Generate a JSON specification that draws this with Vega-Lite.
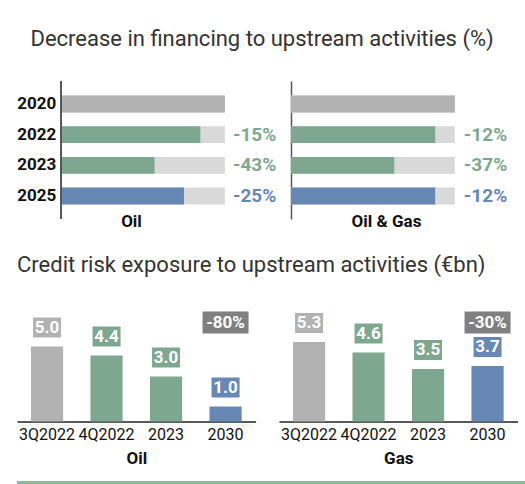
{
  "$schema": "https://vega.github.io/schema/vega-lite/v6.json",
  "background": "white",
  "padding": {"left": 16, "top": 28, "right": 0, "bottom": 0},
  "datasets": {
    "top": [
      {"panel": "Oil", "year": "2020", "value": 100, "change": null, "kind": "base"},
      {"panel": "Oil", "year": "2022", "value": 85, "change": "-15%", "kind": "actual"},
      {"panel": "Oil", "year": "2023", "value": 57, "change": "-43%", "kind": "actual"},
      {"panel": "Oil", "year": "2025", "value": 75, "change": "-25%", "kind": "target"},
      {"panel": "Oil & Gas", "year": "2020", "value": 100, "change": null, "kind": "base"},
      {"panel": "Oil & Gas", "year": "2022", "value": 88, "change": "-12%", "kind": "actual"},
      {"panel": "Oil & Gas", "year": "2023", "value": 63, "change": "-37%", "kind": "actual"},
      {"panel": "Oil & Gas", "year": "2025", "value": 88, "change": "-12%", "kind": "target"}
    ],
    "bottom": [
      {"panel": "Oil", "period": "3Q2022", "value": 5.0, "change": null, "kind": "base"},
      {"panel": "Oil", "period": "4Q2022", "value": 4.4, "change": null, "kind": "actual"},
      {"panel": "Oil", "period": "2023", "value": 3.0, "change": null, "kind": "actual"},
      {"panel": "Oil", "period": "2030", "value": 1.0, "change": "-80%", "kind": "target"},
      {"panel": "Gas", "period": "3Q2022", "value": 5.3, "change": null, "kind": "base"},
      {"panel": "Gas", "period": "4Q2022", "value": 4.6, "change": null, "kind": "actual"},
      {"panel": "Gas", "period": "2023", "value": 3.5, "change": null, "kind": "actual"},
      {"panel": "Gas", "period": "2030", "value": 3.7, "change": "-30%", "kind": "target"}
    ]
  },
  "config": {
    "font": "Roboto",
    "view": {"stroke": null},
    "axis": {"grid": false, "ticks": false, "labelColor": "#111", "titleColor": "#111"},
    "title": {"fontSize": 22, "fontWeight": "normal", "color": "#333", "anchor": "middle"}
  },
  "spacing": 25,
  "vconcat": [
    {
      "title": {"text": "Decrease in financing to upstream activities (%)", "offset": 29},
      "spacing": 14,
      "hconcat": [
        {
          "width": 257, "height": 138,
          "data": {"name": "top"},
          "transform": [{"filter": "datum.panel === 'Oil'"}],
          "encoding": {
            "y": {"field": "year", "type": "nominal", "sort": null,
              "scale": {"paddingInner": 0.45, "paddingOuter": 0.475},
              "axis": null}
          },
          "layer": [
            {"mark": {"type": "bar", "color": "#d9d9d9"},
             "encoding": {"x": {"datum": 100, "type": "quantitative", "scale": {"domain": [-27, 130], "nice": false, "zero": false},
               "axis": {"title": "Oil", "labels": false, "domain": false, "titleFontSize": 17, "titleFontWeight": "bold", "titlePadding": -6, "titleX": 114}},
               "x2": {"datum": 0}}},
            {"mark": "bar",
             "encoding": {"x": {"field": "value", "type": "quantitative"}, "x2": {"datum": 0},
               "color": {"field": "kind", "type": "nominal", "scale": {"domain": ["base", "actual", "target"], "range": ["#b2b2b2", "#7da88f", "#6787b5"]}, "legend": null}}},
            {"mark": {"type": "rule", "color": "#555", "strokeWidth": 1.5},
             "encoding": {"x": {"datum": 0, "type": "quantitative"}, "y": null}},
            {"mark": {"type": "text", "align": "right", "baseline": "middle", "dx": -5, "fontSize": 17, "fontWeight": "bold", "color": "#111"},
             "encoding": {"x": {"datum": 0, "type": "quantitative"}, "text": {"field": "year"}}},
            {"transform": [{"filter": "datum.change != null"}],
             "mark": {"type": "text", "align": "left", "baseline": "middle", "dx": 8, "fontSize": 19, "fontWeight": "bold"},
             "encoding": {"x": {"datum": 100, "type": "quantitative"}, "text": {"field": "change"},
               "color": {"field": "kind", "type": "nominal", "legend": null}}}
          ]
        },
        {
          "width": 213, "height": 138,
          "data": {"name": "top"},
          "transform": [{"filter": "datum.panel === 'Oil & Gas'"}],
          "encoding": {
            "y": {"field": "year", "type": "nominal", "sort": null,
              "scale": {"paddingInner": 0.45, "paddingOuter": 0.475},
              "axis": {"title": null, "labels": false, "domainColor": "#555", "domainWidth": 1.5}}
          },
          "layer": [
            {"mark": {"type": "bar", "color": "#d9d9d9"},
             "encoding": {"x": {"datum": 100, "type": "quantitative", "scale": {"domain": [0, 130], "nice": false},
               "axis": {"title": "Oil & Gas", "labels": false, "domain": false, "titleFontSize": 17, "titleFontWeight": "bold", "titlePadding": -6, "titleX": 95}}}},
            {"mark": "bar",
             "encoding": {"x": {"field": "value", "type": "quantitative"},
               "color": {"field": "kind", "type": "nominal", "scale": {"domain": ["base", "actual", "target"], "range": ["#b2b2b2", "#7da88f", "#6787b5"]}, "legend": null}}},
            {"transform": [{"filter": "datum.change != null"}],
             "mark": {"type": "text", "align": "left", "baseline": "middle", "dx": 9, "fontSize": 19, "fontWeight": "bold"},
             "encoding": {"x": {"datum": 100, "type": "quantitative"}, "text": {"field": "change"},
               "color": {"field": "kind", "type": "nominal", "legend": null}}}
          ]
        }
      ]
    },
    {
      "spacing": 13,
      "vconcat": [
        {
          "title": {"text": "Credit risk exposure to upstream activities (€bn)", "offset": 32, "anchor": "start"},
          "spacing": 23,
          "hconcat": [
            {
              "width": 238.6, "height": 112.5,
              "data": {"name": "bottom"},
              "transform": [{"filter": "datum.panel === 'Oil'"}],
              "encoding": {
                "x": {"field": "period", "type": "nominal", "sort": null,
                  "scale": {"paddingInner": 0.46, "paddingOuter": 0.235},
                  "axis": {"title": "Oil", "labelAngle": 0, "labelFontSize": 16, "labelPadding": 5, "domainColor": "#222", "domainWidth": 1.5, "titleFontSize": 17, "titleFontWeight": "bold", "titlePadding": 8}}
              },
              "layer": [
                {"mark": "bar",
                 "encoding": {"y": {"field": "value", "type": "quantitative", "scale": {"domain": [0, 7.5], "nice": false}, "axis": null},
                   "color": {"field": "kind", "type": "nominal", "scale": {"domain": ["base", "actual", "target"], "range": ["#b2b2b2", "#7da88f", "#6787b5"]}, "legend": null}}},
                {"mark": {"type": "point", "filled": true, "opacity": 1, "size": 784, "shape": "M-1,-2.071H1V-0.643H-1Z"},
                 "encoding": {"y": {"field": "value", "type": "quantitative", "axis": null},
                   "color": {"field": "kind", "type": "nominal", "legend": null}}},
                {"mark": {"type": "text", "baseline": "middle", "dy": -19, "fontSize": 17, "fontWeight": "bold", "color": "white"},
                 "encoding": {"y": {"field": "value", "type": "quantitative", "axis": null}, "text": {"field": "value", "type": "quantitative", "format": ".1f"}}},
                {"transform": [{"filter": "datum.change != null"}],
                 "mark": {"type": "point", "filled": true, "opacity": 1, "size": 784, "color": "#808080", "shape": "M-1.643,-0.786H1.643V0.786H-1.643Z"},
                 "encoding": {"y": {"datum": 6.6, "type": "quantitative", "axis": null}}},
                {"transform": [{"filter": "datum.change != null"}],
                 "mark": {"type": "text", "baseline": "middle", "fontSize": 17, "fontWeight": "bold", "color": "white"},
                 "encoding": {"y": {"datum": 6.6, "type": "quantitative", "axis": null}, "text": {"field": "change"}}}
              ]
            },
            {
              "width": 238.6, "height": 112.5,
              "data": {"name": "bottom"},
              "transform": [{"filter": "datum.panel === 'Gas'"}],
              "encoding": {
                "x": {"field": "period", "type": "nominal", "sort": null,
                  "scale": {"paddingInner": 0.46, "paddingOuter": 0.235},
                  "axis": {"title": "Gas", "labelAngle": 0, "labelFontSize": 16, "labelPadding": 5, "domainColor": "#222", "domainWidth": 1.5, "titleFontSize": 17, "titleFontWeight": "bold", "titlePadding": 8}}
              },
              "layer": [
                {"mark": "bar",
                 "encoding": {"y": {"field": "value", "type": "quantitative", "scale": {"domain": [0, 7.5], "nice": false}, "axis": null},
                   "color": {"field": "kind", "type": "nominal", "scale": {"domain": ["base", "actual", "target"], "range": ["#b2b2b2", "#7da88f", "#6787b5"]}, "legend": null}}},
                {"mark": {"type": "point", "filled": true, "opacity": 1, "size": 784, "shape": "M-1,-2.071H1V-0.643H-1Z"},
                 "encoding": {"y": {"field": "value", "type": "quantitative", "axis": null},
                   "color": {"field": "kind", "type": "nominal", "legend": null}}},
                {"mark": {"type": "text", "baseline": "middle", "dy": -19, "fontSize": 17, "fontWeight": "bold", "color": "white"},
                 "encoding": {"y": {"field": "value", "type": "quantitative", "axis": null}, "text": {"field": "value", "type": "quantitative", "format": ".1f"}}},
                {"transform": [{"filter": "datum.change != null"}],
                 "mark": {"type": "point", "filled": true, "opacity": 1, "size": 784, "color": "#808080", "shape": "M-1.643,-0.786H1.643V0.786H-1.643Z"},
                 "encoding": {"y": {"datum": 6.6, "type": "quantitative", "axis": null}}},
                {"transform": [{"filter": "datum.change != null"}],
                 "mark": {"type": "text", "baseline": "middle", "fontSize": 17, "fontWeight": "bold", "color": "white"},
                 "encoding": {"y": {"datum": 6.6, "type": "quantitative", "axis": null}, "text": {"field": "change"}}}
              ]
            }
          ]
        },
        {
          "width": 509, "height": 3,
          "view": {"fill": "#8cbb98", "stroke": null},
          "data": {"values": [{}]},
          "mark": {"type": "rule", "opacity": 0},
          "encoding": {}
        }
      ]
    }
  ]
}
